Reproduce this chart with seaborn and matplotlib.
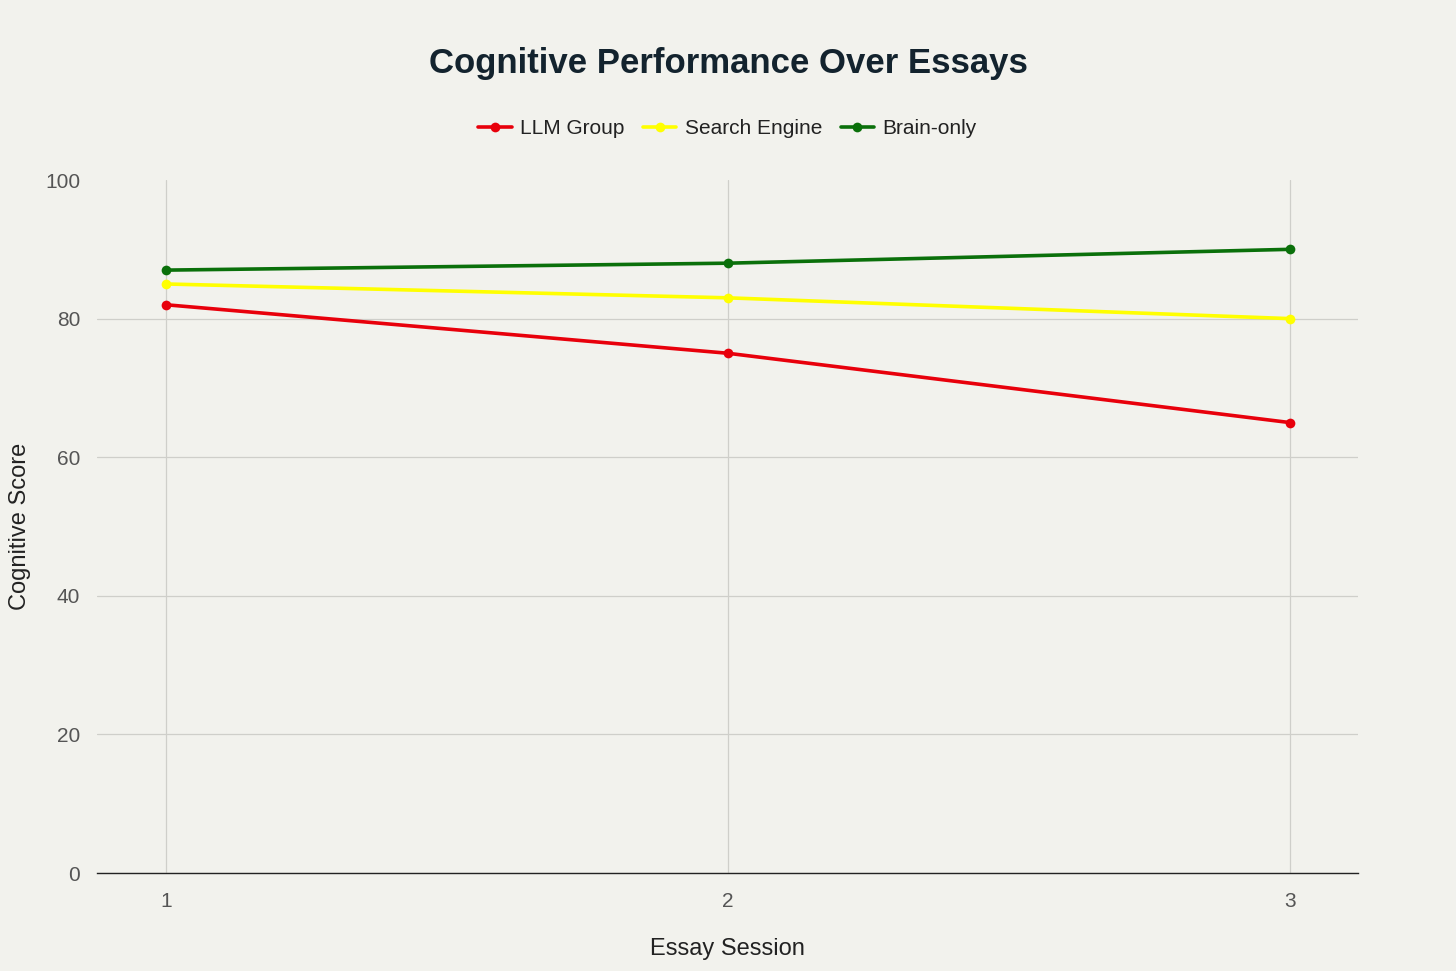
import numpy as np
import pandas as pd
import matplotlib
matplotlib.use("Agg")
import matplotlib.pyplot as plt
import seaborn as sns

sessions = [1, 2, 3]
llm_group = [82, 75, 65]
search_engine = [85, 83, 80]
brain_only = [87, 88, 90]
group_names = ["LLM Group", "Search Engine", "Brain-only"]
group_colors = ["#e8000b", "#ffff00", "#0a700a"]

df = pd.DataFrame({
    "Essay Session": sessions * 3,
    "Cognitive Score": llm_group + search_engine + brain_only,
    "Group": [g for g in group_names for _ in sessions],
})

sns.set_theme(style="white")
plt.rcParams["font.family"] = ["Liberation Sans", "DejaVu Sans"]
bg = "#f2f2ed"

fig = plt.figure(figsize=(14.56, 9.71), dpi=100, facecolor=bg)
ax = fig.add_axes([0.0666, 0.1009, 0.866, 0.7137])
ax.set_facecolor(bg)

sns.lineplot(data=df, x="Essay Session", y="Cognitive Score", hue="Group",
             hue_order=group_names, palette=group_colors, marker="o",
             markersize=7, markeredgewidth=0, linewidth=2.6, ax=ax)

ax.set_xlim(0.877, 3.121)
ax.set_ylim(0, 100)
ax.set_xticks(sessions)
ax.set_yticks([0, 20, 40, 60, 80, 100])
ax.grid(True, color="#cfcfca", linewidth=0.9)
ax.set_axisbelow(True)
# no horizontal gridline at the top value
ax.get_ygridlines()[-1].set_visible(False)
for s in ["top", "right", "left"]:
    ax.spines[s].set_visible(False)
ax.spines["bottom"].set_color("#222222")
ax.spines["bottom"].set_linewidth(1.0)
ax.tick_params(axis="both", labelsize=15, colors="#555555", length=0, pad=12)
ax.tick_params(axis="x", pad=14)

ax.set_xlabel("Essay Session", fontsize=17, color="#222222")
ax.set_ylabel("Cognitive Score", fontsize=17, color="#222222")
ax.xaxis.set_label_coords(0.5, -0.094)
ax.yaxis.set_label_coords(-0.052, 0.5)

fig.suptitle("Cognitive Performance Over Essays", fontsize=25, fontweight="semibold",
             color="#13232e", y=0.952)

leg = ax.legend(loc="upper center", bbox_to_anchor=(0.5, 1.115), ncol=3,
                frameon=False, fontsize=15, handlelength=1.6, handletextpad=0.4,
                columnspacing=0.9)
for t in leg.get_texts():
    t.set_color("#222222")

fig.savefig("out.png", dpi=100, facecolor=bg)
